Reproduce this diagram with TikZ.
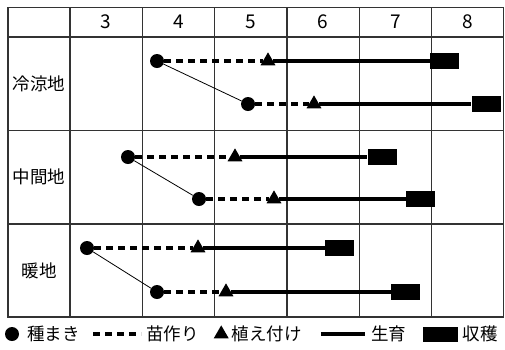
\documentclass[tikz,border=0pt]{standalone}
\usepackage{fontspec}
\setmainfont{Noto Sans CJK JP}
\usetikzlibrary{positioning,shapes.geometric}
\definecolor{gridgray}{HTML}{333333}
\begin{document}
\begin{tikzpicture}[x=1pt,y=-1pt,font=\fontsize{17.5}{17.5}\selectfont,
seed/.style={circle,fill,inner sep=0pt,minimum size=14pt},
plant/.style={regular polygon,regular polygon sides=3,fill,inner sep=0pt,minimum size=17.3pt},
crop/.style={rectangle,fill,inner sep=0pt,minimum width=29pt,minimum height=16pt},
nursery/.style={line width=3.8pt,dash pattern=on 7pt off 5pt},
growline/.style={line width=4.3pt},
link/.style={line width=0.8pt},
gridline/.style={line width=1.3pt,gridgray},
lgtext/.style={inner sep=0pt}]
\useasboundingbox (0,0) rectangle (505,349);
% table
\draw[gridline] (8,7.5) rectangle (503.8,317);
\foreach \i in {0,...,5}
  \draw[gridline] ({70+72.3*\i},7.5) -- ({70+72.3*\i},317);
\foreach \y in {37,130.5,224}
  \draw[gridline] (8,\y) -- (503.8,\y);
\foreach \m [count=\i from 0] in {3,...,8}
  \node[font=\fontsize{19}{19}\selectfont] (month\m) at ({106.15+72.3*\i},22) {\m};
\node (cool) at (39,83.5) {冷涼地};
\node (mid) at (39,177) {中間地};
\node (warm) at (39,270.5) {暖地};
% schedules
\foreach \n/\y/\s/\t/\h in {1-a/61/157/268/444.5,1-b/104/248/314/486,
  2-a/157/128/235/382,2-b/199/199/274/420.5,3-a/248/87/198/339.5,3-b/292/157/226/405.5}{
  \node[seed] (sow-\n) at (\s,\y) {};
  \node[plant] (plant-\n) at (\t,\y) {};
  \node[crop] (crop-\n) at (\h,\y) {};
  \draw[nursery] (sow-\n) -- (plant-\n);
  \draw[growline] (plant-\n) -- (crop-\n);
}
\foreach \k in {1,2,3}
  \draw[link] (sow-\k-a) -- (sow-\k-b);
% legend
\node[seed] (lgseed) at (12,334) {};
\node[lgtext,right=8pt of lgseed] (lgseedtxt) {種まき};
\coordinate[right=13pt of lgseedtxt] (lgdash0);
\coordinate[right=48pt of lgdash0] (lgdash1);
\draw[nursery] (lgdash0) -- (lgdash1);
\node[lgtext,right=5pt of lgdash1] (lgnurstxt) {苗作り};
\node[plant,right=17pt of lgnurstxt] (lgplant) {};
\node[lgtext,right=5pt of lgplant] (lgplanttxt) {植え付け};
\coordinate[right=19pt of lgplanttxt] (lggrow0);
\coordinate[right=44pt of lggrow0] (lggrow1);
\draw[line width=3.3pt] (lggrow0) -- (lggrow1);
\node[lgtext,right=6pt of lggrow1] (lggrowtxt) {生育};
\node[crop,minimum width=35pt,minimum height=15pt,right=17pt of lggrowtxt] (lgcrop) {};
\node[lgtext,right=4pt of lgcrop] (lgcroptxt) {収穫};
\end{tikzpicture}
\end{document}
